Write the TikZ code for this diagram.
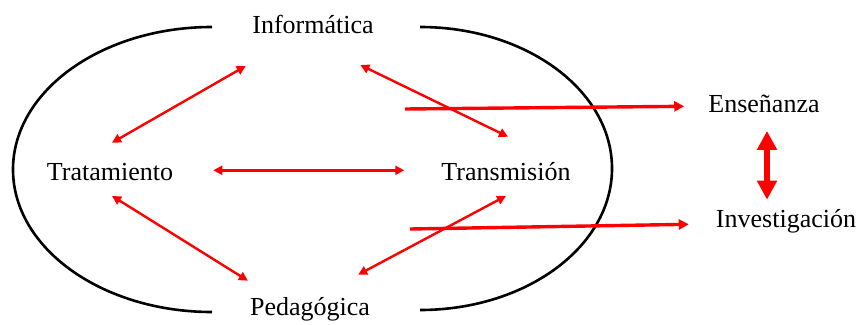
\documentclass[tikz,border=0pt]{standalone}
\usepackage{fontspec}
\setmainfont{Liberation Serif}
\usepackage{tikz}
\usetikzlibrary{arrows.meta, positioning}

\begin{document}
\begin{tikzpicture}[
      x=1pt, y=-1pt,
      lbl/.style={inner sep=0pt, font=\fontsize{26}{30}\selectfont,
                  text height=20.1pt, text depth=6.7pt},
      rim/.style={draw=black, line width=2.6pt},
      arr/.style={{Triangle[length=9pt,width=9pt]}-{Triangle[length=9pt,width=9pt]},
                  draw=red, line width=2.4pt},
      outarr/.style={-{Triangle[length=10pt,width=10pt]}, draw=red, line width=3.4pt},
      link/.style={{Triangle[length=19pt,width=19pt]}-{Triangle[length=19pt,width=19pt]},
                   draw=red, line width=6.5pt},
      ]
    \useasboundingbox (0,0) rectangle (861,324);

    \node[lbl] (info) at (313,26.4) {Informática};
    \node[lbl] (trat) at (110,173.3) {Tratamiento};
    \node[lbl] (trans) at (506,173.3) {Transmisión};
    \node[lbl] (peda) at (310,308.3) {Pedagógica};
    \node[lbl] (ens) at (764,105.3) {Enseñanza};
    \node[lbl] (inv) at (786,220.3) {Investigación};
    \coordinate (o1) at (405,109);
    \coordinate (o2) at (410,229);

    % the two halves of the frame
    \draw[rim] (212,27) arc[start angle=270, end angle=90, x radius=199, y radius=142.5];
    \draw[rim] (420,27) arc[start angle=270, end angle=450, x radius=192, y radius=141.5];

    \draw[arr] ([shift={(-6.5,26)}]info.south west) -- ([shift={(2,-17)}]trat.north);
    \draw[arr] ([shift={(-13.5,25)}]info.south east) -- ([shift={(2,-23)}]trans.north);
    \draw[arr] ([shift={(40,-3)}]trat.east) -- ([shift={(-37,-3)}]trans.west);
    \draw[arr] ([shift={(2,9)}]trat.south) -- ([shift={(-2,-14)}]peda.north west);
    \draw[arr] ([shift={(0,9)}]trans.south) -- ([shift={(-12,-20)}]peda.north east);
    \draw[outarr] (o1) -- ([shift={(-24,1)}]ens.west);
    \draw[outarr] (o2) -- ([shift={(-27,4)}]inv.west);
    \draw[link] ([shift={(3,12)}]ens.south) -- ([shift={(-19,-7)}]inv.north);
  \end{tikzpicture}
\end{document}
